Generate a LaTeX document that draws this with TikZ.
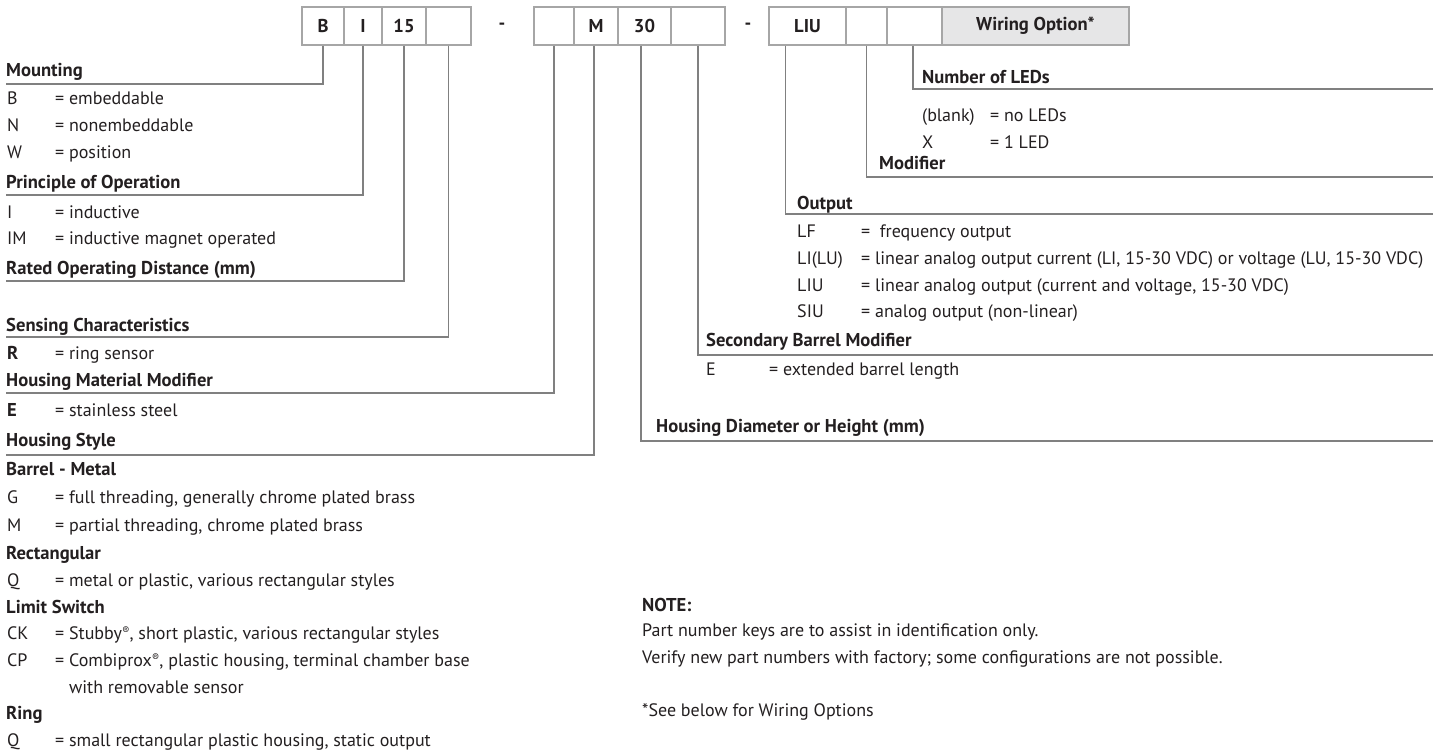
\documentclass[tikz,border=0pt]{standalone}
\usepackage{fontspec}
\setmainfont{PT Sans}
\definecolor{txt}{HTML}{231F20}
\definecolor{lin}{HTML}{808080}
\definecolor{boxline}{HTML}{A6A6A6}
\definecolor{wfill}{HTML}{E6E6E7}
\newcommand{\reg}{\raisebox{0.45ex}{\scalebox{0.6}{®}}}
\newcommand{\rgfont}{\fontsize{18}{20}\selectfont}
\newcommand{\bdfont}{\fontsize{18.6}{20}\selectfont\bfseries}
\begin{document}
\begin{tikzpicture}[x=1pt,y=-1pt,
  every node/.style={text=txt,font=\rgfont},
  pbox/.style={draw=boxline,line width=1.1pt,minimum height=38pt,inner sep=0pt,font=\bdfont},
  lbl/.style={anchor=base west,inner sep=0pt},
  hd/.style={lbl,font=\bdfont},
  conn/.style={draw=lin,line width=1.1pt}]
\useasboundingbox (0,0) rectangle (1433,753);
% ---- part number boxes
\node[pbox,minimum width=42pt] (b1) at (323,26) {B};
\node[pbox,minimum width=38pt] (b2) at (363,26) {I};
\node[pbox,minimum width=44pt] (b3) at (404,26) {15};
\node[pbox,minimum width=45pt] (b4) at (448.5,26) {};
\node[font=\bdfont] (d1) at (502,26) {-};
\node[pbox,minimum width=40pt] (c1) at (554,26) {};
\node[pbox,minimum width=44pt] (c2) at (596,26) {M};
\node[pbox,minimum width=53pt] (c3) at (644.5,26) {30};
\node[pbox,minimum width=54pt] (c4) at (698,26) {};
\node[font=\bdfont] (d2) at (748,26) {-};
\node[pbox,minimum width=77pt] (e1) at (807.5,26) {LIU};
\node[pbox,minimum width=41pt] (e2) at (866.5,26) {};
\node[pbox,minimum width=55pt] (e3) at (914.5,26) {};
\node[pbox,minimum width=187pt,fill=wfill] (e4) at (1035.5,26) {Wiring Option*};
% ---- line end coordinates
\coordinate (mountL) at (6,84);
\coordinate (princL) at (6,195);
\coordinate (ratedL) at (6,281);
\coordinate (senseL) at (6,337);
\coordinate (matL) at (6,393);
\coordinate (styleL) at (6,455);
\coordinate (diamR) at (1433,441);
\coordinate (secR) at (1433,355);
\coordinate (outR) at (1433,214);
\coordinate (modR) at (1433,177);
\coordinate (ledR) at (1433,89);
% ---- connectors
\draw[conn] (b1.south) |- (mountL);
\draw[conn] (b2.south) |- (princL);
\draw[conn] (b3.south) |- (ratedL);
\draw[conn] (b4.south) |- (senseL);
\draw[conn] (c1.south) |- (matL);
\draw[conn] (c2.south) ++(-2,0) |- (styleL);
\draw[conn] (c3.south) ++(-3.5,0) |- (diamR);
\draw[conn] (c4.south) |- (secR);
\draw[conn] (e1.south west) ++(17,0) |- (outR);
\draw[conn] (e2.south) |- (modR);
\draw[conn] (e3.south) ++(-1.5,0) |- (ledR);
% ---- left column
\node[hd] (tMount) at (6,76) {Mounting};
\node[lbl] (kB) at (7,104) {B};        \node[lbl] (vB) at (55,104) {= embeddable};
\node[lbl] (kN) at (7,131) {N};        \node[lbl] (vN) at (55,131) {= nonembeddable};
\node[lbl] (kW) at (7,158) {W};        \node[lbl] (vW) at (55,158) {= position};
\node[hd] (tPrinc) at (6,188) {Principle of Operation};
\node[lbl] (kI) at (7,218) {I};        \node[lbl] (vI) at (55,218) {= inductive};
\node[lbl] (kIM) at (7,244) {IM};      \node[lbl] (vIM) at (55,244) {= inductive magnet operated};
\node[hd] (tRated) at (6,274) {Rated Operating Distance (mm)};
\node[hd] (tSense) at (6,331) {Sensing Characteristics};
\node[hd] (kR) at (7,359) {R};         \node[lbl] (vR) at (55,359) {= ring sensor};
\node[hd] (tMat) at (6,386) {Housing Material Modifier};
\node[hd] (kE) at (7,416) {E};         \node[lbl] (vE) at (55,416) {= stainless steel};
\node[hd] (tStyle) at (6,446) {Housing Style};
\node[hd] (tBarrel) at (6,475) {Barrel - Metal};
\node[lbl] (kG) at (7,503) {G};        \node[lbl] (vG) at (55,503) {= full threading, generally chrome plated brass};
\node[lbl] (kM) at (7,531) {M};        \node[lbl] (vM) at (55,531) {= partial threading, chrome plated brass};
\node[hd] (tRect) at (6,559) {Rectangular};
\node[lbl] (kQ1) at (7,586) {Q};       \node[lbl] (vQ1) at (55,586) {= metal or plastic, various rectangular styles};
\node[hd] (tLimit) at (6,613) {Limit Switch};
\node[lbl] (kCK) at (7,639) {CK};      \node[lbl] (vCK) at (55,639) {= Stubby\reg, short plastic, various rectangular styles};
\node[lbl] (kCP) at (7,666) {CP};      \node[lbl] (vCP) at (55,666) {= Combiprox\reg, plastic housing, terminal chamber base};
\node[lbl] (vCP2) at (55,693) {\phantom{= }with removable sensor};
\node[hd] (tRing) at (6,719) {Ring};
\node[lbl] (kQ2) at (7,746) {Q};       \node[lbl] (vQ2) at (55,746) {= small rectangular plastic housing, static output};
% ---- right column
\node[hd] (tLed) at (922,83) {Number of LEDs};
\node[lbl] (kBl) at (922,121) {(blank)};  \node[lbl] (vBl) at (990,121) {= no LEDs};
\node[lbl] (kX) at (922,148) {X};         \node[lbl] (vX) at (990,148) {= 1 LED};
\node[hd] (tMod) at (879,169) {Modifier};
\node[hd] (tOut) at (797,209) {Output};
\node[lbl] (kLF) at (797,237) {LF};       \node[lbl] (vLF) at (861,237) {=\ \ frequency output};
\node[lbl] (kLI) at (797,264) {LI(LU)};   \node[lbl] (vLI) at (861,264) {= linear analog output current (LI, 15-30 VDC) or voltage (LU, 15-30 VDC)};
\node[lbl] (kLIU) at (797,291) {LIU};     \node[lbl] (vLIU) at (861,291) {= linear analog output (current and voltage, 15-30 VDC)};
\node[lbl] (kSIU) at (797,317) {SIU};     \node[lbl] (vSIU) at (861,317) {= analog output (non-linear)};
\node[hd] (tSec) at (706,346) {Secondary Barrel Modifier};
\node[lbl] (kE2) at (706,375) {E};        \node[lbl] (vE2) at (769,375) {= extended barrel length};
\node[hd] (tDiam) at (656,432) {Housing Diameter or Height (mm)};
% ---- note
\node[hd] (tNote) at (642,611) {NOTE:};
\node[lbl] (n1) at (642,636) {Part number keys are to assist in identification only.};
\node[lbl] (n2) at (642,663) {Verify new part numbers with factory; some configurations are not possible.};
\node[lbl] (n3) at (642,716) {*See below for Wiring Options};
\end{tikzpicture}
\end{document}
